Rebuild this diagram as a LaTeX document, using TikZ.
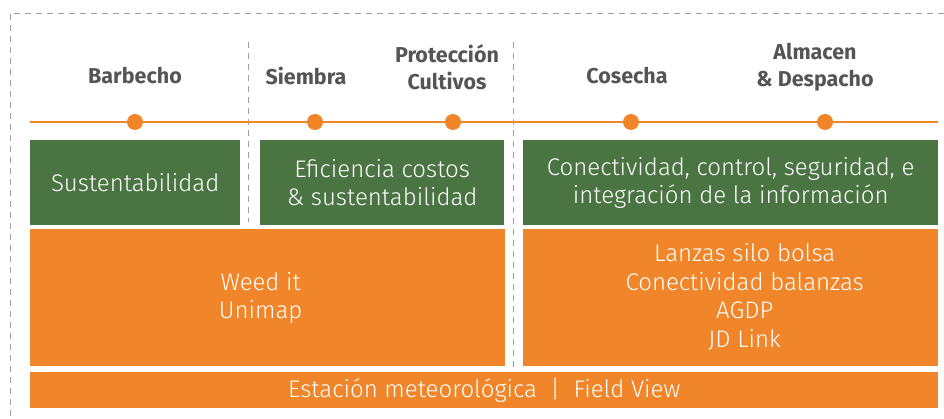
\documentclass[tikz,border=0pt]{standalone}
\usepackage{fontspec}
\setmainfont{Fira Sans}[UprightFont={* Light},BoldFont={* Bold}]
\definecolor{fgreen}{HTML}{4A7543}
\definecolor{forange}{HTML}{F0852A}
\definecolor{fgray}{HTML}{555555}
\definecolor{dgray}{HTML}{A0A0A0}
\begin{document}
\begin{tikzpicture}[x=1pt,y=-1pt,
  gbox/.style={fill=fgreen,anchor=north west,inner sep=0pt},
  obox/.style={fill=forange,anchor=north west,inner sep=0pt},
  btext/.style={text=white,align=center,font=\fontsize{24}{28.5}\selectfont},
  phase/.style={text=fgray,align=center,font=\fontsize{21.5}{27}\selectfont\bfseries},
  tdot/.style={circle,fill=forange,inner sep=0pt,minimum size=16pt},
  sep/.style={draw=dgray,dash pattern=on 6pt off 5pt,line width=0.8pt}]
\useasboundingbox (0,0) rectangle (944,419);
\fill[white] (0,0) rectangle (944,419);
% outer dashed frame
\coordinate (fa) at (10,13);
\coordinate (fb) at (944,13);
\coordinate (fc) at (10,419);
\draw[sep] (fb) -- (fa) -- (fc);
% vertical separators
\coordinate (s1t) at (248,42);
\coordinate (s1b) at (248,222);
\coordinate (s2t) at (513,42);
\coordinate (s2b) at (513,368);
\draw[sep] (s1t) -- (s1b);
\draw[sep] (s2t) -- (s2b);
% timeline
\coordinate (tl0) at (30,122);
\coordinate (tl1) at (938,122);
\draw[forange,line width=1.4pt] (tl0) -- (tl1);
\node[tdot] (d1) at (135,122) {};
\node[tdot] (d2) at (315,122) {};
\node[tdot] (d3) at (453,122) {};
\node[tdot] (d4) at (631,122) {};
\node[tdot] (d5) at (825,122) {};
% phase labels
\node[phase] (p1) at (135,76) {Barbecho};
\node[phase] (p2) at (306,76) {Siembra};
\node[phase] (p3) at (447,67) {Protección\\Cultivos};
\node[phase] (p4) at (627,76) {Cosecha};
\node[phase] (p5) at (815,67) {Almacen\\\& Despacho};
% green boxes
\node[gbox,minimum width=210pt,minimum height=85pt] (g1) at (30,140) {};
\node[btext] (t1) at (g1.center) {Sustentabilidad};
\node[gbox,minimum width=244pt,minimum height=85pt] (g2) at (260,140) {};
\node[btext] (t2) at (g2.center) {Eficiencia costos\\\& sustentabilidad};
\node[gbox,minimum width=415pt,minimum height=85pt] (g3) at (523,140) {};
\node[btext] (t3) at (g3.center) {Conectividad, control, seguridad, e\\integración de la información};
% orange boxes
\node[obox,minimum width=475pt,minimum height=137pt] (o1) at (30,229) {};
\node[btext] (t4) at ([xshift=-7pt]o1.center) {Weed it\\Unimap};
\node[obox,minimum width=415pt,minimum height=137pt] (o2) at (523,229) {};
\node[btext] (t5) at ([xshift=14pt,yshift=1pt]o2.center) {Lanzas silo bolsa\\Conectividad balanzas\\AGDP\\JD Link};
\node[obox,minimum width=908pt,minimum height=36pt] (o3) at (30,372) {};
\node[btext] (t6) at (o3.center) {Estación meteorológica ~\textbar~ Field View};
\end{tikzpicture}
\end{document}
